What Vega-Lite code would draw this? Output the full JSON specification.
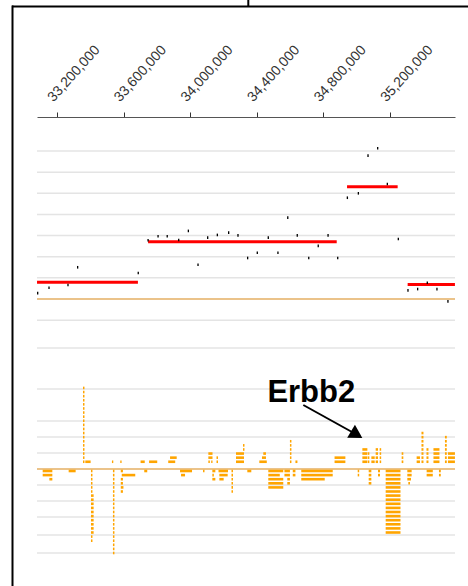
{
  "$schema": "https://vega.github.io/schema/vega-lite/v6.json",
  "width": 418,
  "height": 458,
  "autosize": {"type": "none"},
  "padding": {"left": 37, "top": 117, "right": 13, "bottom": 11},
  "background": "white",
  "config": {"view": {"stroke": null}, "font": "Liberation Sans"},
  "resolve": {"scale": {"y": "independent"}},
  "datasets": {
    "ugrid": [{"v": -1}, {"v": 1}, {"v": 2}, {"v": 3}, {"v": 4}, {"v": 5}, {"v": 6}, {"v": 7}],
    "lgrid": [{"g": 7.5625}, {"g": 5}, {"g": 3}, {"g": 2}, {"g": 1}, {"g": -1}, {"g": -2}, {"g": -3}, {"g": -4.125}, {"g": -5.25}],
    "segments": [
      {"start": 33080000, "end": 33686000, "v": 0.79},
      {"start": 33747000, "end": 34880000, "v": 2.71},
      {"start": 34942000, "end": 35246000, "v": 5.31},
      {"start": 35306000, "end": 35590000, "v": 0.68}
    ],
    "points": [
      {"pos": 33084000, "v": 0.28}, {"pos": 33152000, "v": 0.53}, {"pos": 33266000, "v": 0.66}, {"pos": 33324000, "v": 1.5},
      {"pos": 33688000, "v": 1.23}, {"pos": 33747000, "v": 2.78}, {"pos": 33807000, "v": 2.97}, {"pos": 33862000, "v": 2.97},
      {"pos": 33931000, "v": 2.79}, {"pos": 33989000, "v": 3.22}, {"pos": 34047000, "v": 1.62}, {"pos": 34105000, "v": 2.9},
      {"pos": 34163000, "v": 3.03}, {"pos": 34231000, "v": 3.14}, {"pos": 34287000, "v": 3.01}, {"pos": 34345000, "v": 1.94},
      {"pos": 34403000, "v": 2.19}, {"pos": 34469000, "v": 2.9}, {"pos": 34527000, "v": 2.19}, {"pos": 34586000, "v": 3.85},
      {"pos": 34643000, "v": 3.01}, {"pos": 34712000, "v": 1.94}, {"pos": 34769000, "v": 2.51}, {"pos": 34828000, "v": 3.01},
      {"pos": 34886000, "v": 1.94}, {"pos": 34944000, "v": 4.79}, {"pos": 35010000, "v": 5.0}, {"pos": 35068000, "v": 6.78},
      {"pos": 35126000, "v": 7.13}, {"pos": 35184000, "v": 5.44}, {"pos": 35250000, "v": 2.84}, {"pos": 35308000, "v": 0.41},
      {"pos": 35366000, "v": 0.47}, {"pos": 35424000, "v": 0.77}, {"pos": 35482000, "v": 0.47}, {"pos": 35548000, "v": -0.11}
    ],
    "bars": [
      {"s": 33356000, "e": 33365000, "l": 1}, {"s": 33356000, "e": 33365000, "l": 2}, {"s": 33356000, "e": 33365000, "l": 3},
      {"s": 33356000, "e": 33365000, "l": 4}, {"s": 33356000, "e": 33365000, "l": 5}, {"s": 33356000, "e": 33365000, "l": 6},
      {"s": 33356000, "e": 33365000, "l": 7}, {"s": 33356000, "e": 33365000, "l": 8}, {"s": 33356000, "e": 33365000, "l": 9},
      {"s": 33356000, "e": 33365000, "l": 10}, {"s": 33356000, "e": 33365000, "l": 11}, {"s": 33356000, "e": 33365000, "l": 12},
      {"s": 33356000, "e": 33365000, "l": 13}, {"s": 33356000, "e": 33365000, "l": 14}, {"s": 33356000, "e": 33365000, "l": 15},
      {"s": 33356000, "e": 33365000, "l": 16}, {"s": 33356000, "e": 33365000, "l": 17}, {"s": 33356000, "e": 33365000, "l": 18},
      {"s": 33356000, "e": 33365000, "l": 19},
      {"s": 33370000, "e": 33402000, "l": 1},
      {"s": 33530000, "e": 33538000, "l": 1},
      {"s": 33580000, "e": 33588000, "l": 1},
      {"s": 33702000, "e": 33727000, "l": 1},
      {"s": 33753000, "e": 33802000, "l": 1},
      {"s": 33868000, "e": 33910000, "l": 1}, {"s": 33879000, "e": 33919000, "l": 2},
      {"s": 34109000, "e": 34118000, "l": 1}, {"s": 34126000, "e": 34134000, "l": 1}, {"s": 34109000, "e": 34134000, "l": 2}, {"s": 34109000, "e": 34134000, "l": 3},
      {"s": 34158000, "e": 34167000, "l": 1}, {"s": 34158000, "e": 34167000, "l": 2},
      {"s": 34275000, "e": 34323000, "l": 1}, {"s": 34275000, "e": 34323000, "l": 2}, {"s": 34275000, "e": 34323000, "l": 3},
      {"s": 34317000, "e": 34326000, "l": 4}, {"s": 34317000, "e": 34326000, "l": 5},
      {"s": 34415000, "e": 34460000, "l": 1}, {"s": 34431000, "e": 34455000, "l": 2}, {"s": 34439000, "e": 34455000, "l": 3},
      {"s": 34599000, "e": 34608000, "l": 1}, {"s": 34599000, "e": 34608000, "l": 2}, {"s": 34599000, "e": 34608000, "l": 3},
      {"s": 34599000, "e": 34608000, "l": 4}, {"s": 34599000, "e": 34608000, "l": 5}, {"s": 34599000, "e": 34608000, "l": 6},
      {"s": 34632000, "e": 34644000, "l": 1},
      {"s": 34867000, "e": 34932000, "l": 1}, {"s": 34867000, "e": 34932000, "l": 2},
      {"s": 35034000, "e": 35064000, "l": 1}, {"s": 35034000, "e": 35064000, "l": 2}, {"s": 35034000, "e": 35064000, "l": 3}, {"s": 35034000, "e": 35064000, "l": 4},
      {"s": 35067000, "e": 35076000, "l": 1}, {"s": 35067000, "e": 35076000, "l": 2}, {"s": 35067000, "e": 35076000, "l": 3},
      {"s": 35088000, "e": 35108000, "l": 1}, {"s": 35088000, "e": 35108000, "l": 2},
      {"s": 35114000, "e": 35128000, "l": 1}, {"s": 35114000, "e": 35128000, "l": 2}, {"s": 35114000, "e": 35128000, "l": 3}, {"s": 35114000, "e": 35128000, "l": 4},
      {"s": 35138000, "e": 35147000, "l": 1}, {"s": 35138000, "e": 35147000, "l": 2}, {"s": 35138000, "e": 35147000, "l": 3}, {"s": 35138000, "e": 35147000, "l": 4},
      {"s": 35270000, "e": 35280000, "l": 1}, {"s": 35270000, "e": 35280000, "l": 2}, {"s": 35270000, "e": 35280000, "l": 3},
      {"s": 35360000, "e": 35380000, "l": 1}, {"s": 35360000, "e": 35380000, "l": 2},
      {"s": 35389000, "e": 35401000, "l": 1}, {"s": 35389000, "e": 35401000, "l": 2}, {"s": 35389000, "e": 35401000, "l": 3}, {"s": 35389000, "e": 35401000, "l": 4},
      {"s": 35389000, "e": 35401000, "l": 5}, {"s": 35389000, "e": 35401000, "l": 6}, {"s": 35389000, "e": 35401000, "l": 7}, {"s": 35389000, "e": 35401000, "l": 8},
      {"s": 35419000, "e": 35431000, "l": 1}, {"s": 35419000, "e": 35431000, "l": 2}, {"s": 35419000, "e": 35431000, "l": 3}, {"s": 35419000, "e": 35431000, "l": 4},
      {"s": 35461000, "e": 35497000, "l": 1}, {"s": 35461000, "e": 35497000, "l": 2}, {"s": 35461000, "e": 35497000, "l": 3}, {"s": 35461000, "e": 35497000, "l": 4},
      {"s": 35530000, "e": 35541000, "l": 1}, {"s": 35530000, "e": 35541000, "l": 2}, {"s": 35530000, "e": 35541000, "l": 3}, {"s": 35530000, "e": 35541000, "l": 4},
      {"s": 35530000, "e": 35541000, "l": 5}, {"s": 35530000, "e": 35541000, "l": 6}, {"s": 35530000, "e": 35541000, "l": 7},
      {"s": 35548000, "e": 35590000, "l": 1}, {"s": 35548000, "e": 35590000, "l": 2}, {"s": 35548000, "e": 35590000, "l": 3},
      {"s": 33114000, "e": 33172000, "l": -1}, {"s": 33114000, "e": 33172000, "l": -2}, {"s": 33154000, "e": 33172000, "l": -3},
      {"s": 33270000, "e": 33312000, "l": -1},
      {"s": 33404000, "e": 33413000, "l": -1}, {"s": 33404000, "e": 33413000, "l": -2}, {"s": 33404000, "e": 33413000, "l": -3},
      {"s": 33404000, "e": 33413000, "l": -4}, {"s": 33404000, "e": 33413000, "l": -5}, {"s": 33404000, "e": 33413000, "l": -6},
      {"s": 33404000, "e": 33420000, "l": -7}, {"s": 33404000, "e": 33420000, "l": -8}, {"s": 33404000, "e": 33420000, "l": -9},
      {"s": 33404000, "e": 33420000, "l": -10}, {"s": 33404000, "e": 33420000, "l": -11}, {"s": 33404000, "e": 33420000, "l": -12},
      {"s": 33404000, "e": 33420000, "l": -13}, {"s": 33404000, "e": 33420000, "l": -14}, {"s": 33404000, "e": 33420000, "l": -15},
      {"s": 33404000, "e": 33420000, "l": -16}, {"s": 33404000, "e": 33413000, "l": -17}, {"s": 33404000, "e": 33413000, "l": -18},
      {"s": 33536000, "e": 33545000, "l": -1}, {"s": 33536000, "e": 33545000, "l": -2}, {"s": 33536000, "e": 33545000, "l": -3},
      {"s": 33536000, "e": 33545000, "l": -4}, {"s": 33536000, "e": 33545000, "l": -5}, {"s": 33536000, "e": 33545000, "l": -6},
      {"s": 33536000, "e": 33545000, "l": -7}, {"s": 33536000, "e": 33545000, "l": -8}, {"s": 33536000, "e": 33545000, "l": -9},
      {"s": 33536000, "e": 33545000, "l": -10}, {"s": 33536000, "e": 33545000, "l": -11}, {"s": 33536000, "e": 33545000, "l": -12},
      {"s": 33536000, "e": 33545000, "l": -13}, {"s": 33536000, "e": 33545000, "l": -14}, {"s": 33536000, "e": 33545000, "l": -15},
      {"s": 33536000, "e": 33545000, "l": -16}, {"s": 33536000, "e": 33545000, "l": -17}, {"s": 33536000, "e": 33545000, "l": -18},
      {"s": 33536000, "e": 33545000, "l": -19}, {"s": 33536000, "e": 33545000, "l": -20}, {"s": 33536000, "e": 33545000, "l": -21},
      {"s": 33583000, "e": 33596000, "l": -1}, {"s": 33583000, "e": 33596000, "l": -3}, {"s": 33583000, "e": 33596000, "l": -4},
      {"s": 33583000, "e": 33599000, "l": -5}, {"s": 33583000, "e": 33596000, "l": -6},
      {"s": 33589000, "e": 33670000, "l": -2},
      {"s": 33724000, "e": 33742000, "l": -1},
      {"s": 33939000, "e": 34011000, "l": -1}, {"s": 33945000, "e": 33969000, "l": -2},
      {"s": 34077000, "e": 34086000, "l": -1},
      {"s": 34133000, "e": 34151000, "l": -1}, {"s": 34133000, "e": 34142000, "l": -2}, {"s": 34133000, "e": 34151000, "l": -3},
      {"s": 34170000, "e": 34227000, "l": -1}, {"s": 34175000, "e": 34225000, "l": -2}, {"s": 34175000, "e": 34201000, "l": -3},
      {"s": 34248000, "e": 34257000, "l": -1}, {"s": 34248000, "e": 34257000, "l": -2}, {"s": 34248000, "e": 34257000, "l": -3},
      {"s": 34248000, "e": 34257000, "l": -4}, {"s": 34248000, "e": 34257000, "l": -5}, {"s": 34248000, "e": 34257000, "l": -6},
      {"s": 34343000, "e": 34367000, "l": -1},
      {"s": 34469000, "e": 34559000, "l": -1}, {"s": 34469000, "e": 34538000, "l": -2}, {"s": 34469000, "e": 34559000, "l": -3},
      {"s": 34469000, "e": 34559000, "l": -4}, {"s": 34469000, "e": 34559000, "l": -5},
      {"s": 34566000, "e": 34599000, "l": -1}, {"s": 34566000, "e": 34599000, "l": -2}, {"s": 34583000, "e": 34599000, "l": -3}, {"s": 34583000, "e": 34599000, "l": -4},
      {"s": 34616000, "e": 34632000, "l": -1}, {"s": 34616000, "e": 34632000, "l": -2},
      {"s": 34667000, "e": 34856000, "l": -1}, {"s": 34667000, "e": 34856000, "l": -2}, {"s": 34667000, "e": 34808000, "l": -3},
      {"s": 35006000, "e": 35015000, "l": -1}, {"s": 35006000, "e": 35015000, "l": -2},
      {"s": 35072000, "e": 35088000, "l": -1}, {"s": 35072000, "e": 35088000, "l": -2}, {"s": 35072000, "e": 35088000, "l": -3}, {"s": 35072000, "e": 35088000, "l": -4},
      {"s": 35128000, "e": 35140000, "l": -1}, {"s": 35128000, "e": 35140000, "l": -2},
      {"s": 35174000, "e": 35263000, "l": -1}, {"s": 35174000, "e": 35263000, "l": -2}, {"s": 35174000, "e": 35263000, "l": -3},
      {"s": 35174000, "e": 35263000, "l": -4}, {"s": 35174000, "e": 35263000, "l": -5}, {"s": 35174000, "e": 35263000, "l": -6},
      {"s": 35174000, "e": 35263000, "l": -7}, {"s": 35174000, "e": 35263000, "l": -8}, {"s": 35174000, "e": 35263000, "l": -9},
      {"s": 35174000, "e": 35263000, "l": -10}, {"s": 35174000, "e": 35263000, "l": -11}, {"s": 35174000, "e": 35263000, "l": -12},
      {"s": 35174000, "e": 35263000, "l": -13}, {"s": 35174000, "e": 35263000, "l": -14}, {"s": 35174000, "e": 35263000, "l": -15},
      {"s": 35174000, "e": 35263000, "l": -16},
      {"s": 35304000, "e": 35330000, "l": -1}, {"s": 35304000, "e": 35330000, "l": -2}, {"s": 35304000, "e": 35326000, "l": -3}, {"s": 35310000, "e": 35320000, "l": -4},
      {"s": 35420000, "e": 35457000, "l": -1}, {"s": 35420000, "e": 35457000, "l": -2},
      {"s": 35494000, "e": 35505000, "l": -1}, {"s": 35494000, "e": 35505000, "l": -2}
    ],
    "frame": [
      {"start": 32929730, "end": 35668470, "v1": 13.836, "v2": 13.836},
      {"start": 32932730, "end": 32932730, "v1": 13.88, "v2": -13.6},
      {"start": 34348950, "end": 34348950, "v1": 14.2, "v2": 13.836}
    ],
    "label": [{"pos": 34727330, "g": 4.19, "text": "Erbb2"}],
    "arrow": [{"start": 34679280, "end": 34971770, "g1": 4.0, "g2": 2.3125}],
    "head": [{"pos": 35000000, "g": 2.144}]
  },
  "layer": [
    {
      "data": {"name": "ugrid"},
      "mark": {"type": "rule", "color": "#e4e4e4", "strokeWidth": 1.5},
      "encoding": {
        "y": {"field": "v", "type": "quantitative", "scale": {"domain": [-13.056, 8.609], "nice": false, "zero": false}, "axis": null}
      }
    },
    {
      "data": {"name": "lgrid"},
      "mark": {"type": "rule", "color": "#e4e4e4", "strokeWidth": 1.5},
      "encoding": {
        "y": {"field": "g", "type": "quantitative", "scale": {"domain": [-6.625, 22], "nice": false, "zero": false}, "axis": null}
      }
    },
    {
      "data": {"values": [{"v": 0}]},
      "mark": {"type": "rule", "color": "#ebc38a", "strokeWidth": 2},
      "encoding": {
        "y": {"field": "v", "type": "quantitative", "scale": {"domain": [-13.056, 8.609], "nice": false, "zero": false}, "axis": null}
      }
    },
    {
      "data": {"values": [{"g": 0}]},
      "mark": {"type": "rule", "color": "#ebc38a", "strokeWidth": 2},
      "encoding": {
        "y": {"field": "g", "type": "quantitative", "scale": {"domain": [-6.625, 22], "nice": false, "zero": false}, "axis": null}
      }
    },
    {
      "data": {"name": "bars"},
      "transform": [{"filter": "datum.l > 0"}],
      "mark": {"type": "rule", "color": "#ffa500", "strokeWidth": 2.6, "strokeCap": "butt"},
      "encoding": {
        "x": {"field": "s", "type": "quantitative", "scale": {"domain": [33079880, 35590390], "nice": false, "zero": false}},
        "x2": {"field": "e"},
        "y": {"field": "l", "type": "quantitative", "scale": {"domain": [-26.62, 85.085], "nice": false, "zero": false}, "axis": null}
      }
    },
    {
      "data": {"name": "bars"},
      "transform": [{"filter": "datum.l < 0"}],
      "mark": {"type": "rule", "color": "#ffa500", "strokeWidth": 2.6, "strokeCap": "butt"},
      "encoding": {
        "x": {"field": "s", "type": "quantitative", "scale": {"domain": [33079880, 35590390], "nice": false, "zero": false}},
        "x2": {"field": "e"},
        "y": {"field": "l", "type": "quantitative", "scale": {"domain": [-26.366, 85.341], "nice": false, "zero": false}, "axis": null}
      }
    },
    {
      "data": {"name": "segments"},
      "mark": {"type": "rule", "color": "#ff0000", "strokeWidth": 3, "strokeCap": "butt"},
      "encoding": {
        "x": {
          "field": "start", "type": "quantitative",
          "scale": {"domain": [33079880, 35590390], "nice": false, "zero": false},
          "axis": {
            "orient": "top", "title": null, "grid": false,
            "values": [33200000, 33600000, 34000000, 34400000, 34800000, 35200000],
            "format": ",d", "labelAngle": -48, "labelAlign": "left", "labelBaseline": "alphabetic",
            "labelFontSize": 14, "labelColor": "#333333", "labelPadding": 10, "labelOffset": -4,
            "labelOverlap": false, "labelBound": false, "labelFlush": false,
            "tickSize": 5, "tickColor": "#333333", "tickWidth": 1, "domainColor": "#555555", "domainWidth": 1
          }
        },
        "x2": {"field": "end"},
        "y": {"field": "v", "type": "quantitative", "scale": {"domain": [-13.056, 8.609], "nice": false, "zero": false}, "axis": null}
      }
    },
    {
      "data": {"name": "points"},
      "mark": {"type": "point", "shape": "M-0.5,-1L0.5,-1L0.5,1L-0.5,1Z", "size": 7, "filled": true, "color": "#000000", "opacity": 1},
      "encoding": {
        "x": {"field": "pos", "type": "quantitative", "scale": {"domain": [33079880, 35590390], "nice": false, "zero": false}},
        "y": {"field": "v", "type": "quantitative", "scale": {"domain": [-13.056, 8.609], "nice": false, "zero": false}, "axis": null}
      }
    },
    {
      "data": {"name": "label"},
      "mark": {"type": "text", "fontSize": 31, "fontWeight": "bold", "font": "Liberation Sans", "align": "center", "baseline": "alphabetic", "color": "#000000"},
      "encoding": {
        "x": {"field": "pos", "type": "quantitative", "scale": {"domain": [33079880, 35590390], "nice": false, "zero": false}},
        "y": {"field": "g", "type": "quantitative", "scale": {"domain": [-6.625, 22], "nice": false, "zero": false}, "axis": null},
        "text": {"field": "text"}
      }
    },
    {
      "data": {"name": "arrow"},
      "mark": {"type": "rule", "color": "#000000", "strokeWidth": 2},
      "encoding": {
        "x": {"field": "start", "type": "quantitative", "scale": {"domain": [33079880, 35590390], "nice": false, "zero": false}},
        "x2": {"field": "end"},
        "y": {"field": "g1", "type": "quantitative", "scale": {"domain": [-6.625, 22], "nice": false, "zero": false}, "axis": null},
        "y2": {"field": "g2"}
      }
    },
    {
      "data": {"name": "head"},
      "mark": {"type": "point", "shape": "triangle-right", "size": 230, "angle": 30.8, "filled": true, "color": "#000000", "opacity": 1},
      "encoding": {
        "x": {"field": "pos", "type": "quantitative", "scale": {"domain": [33079880, 35590390], "nice": false, "zero": false}},
        "y": {"field": "g", "type": "quantitative", "scale": {"domain": [-6.625, 22], "nice": false, "zero": false}, "axis": null}
      }
    },
    {
      "data": {"name": "frame"},
      "mark": {"type": "rule", "color": "#000000", "strokeWidth": 2, "strokeCap": "butt"},
      "encoding": {
        "x": {"field": "start", "type": "quantitative", "scale": {"domain": [33079880, 35590390], "nice": false, "zero": false}},
        "x2": {"field": "end"},
        "y": {"field": "v1", "type": "quantitative", "scale": {"domain": [-13.056, 8.609], "nice": false, "zero": false}, "axis": null},
        "y2": {"field": "v2"}
      }
    }
  ]
}
